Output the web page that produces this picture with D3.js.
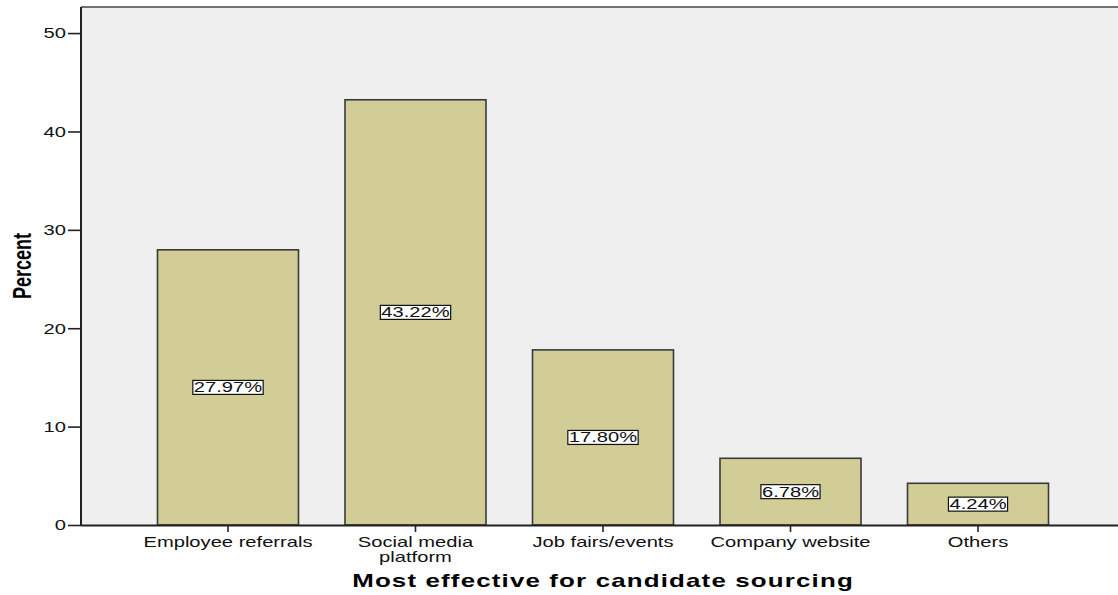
<!DOCTYPE html>
<html>
<head>
<meta charset="utf-8">
<script src="https://cdn.jsdelivr.net/npm/d3@7"></script>
<style>
  html, body { margin: 0; padding: 0; background: #ffffff; }
  svg { display: block; }
  text { font-family: Arial, "Liberation Sans", sans-serif; fill: #111; }
</style>
</head>
<body>
<svg id="chart" width="1118" height="595"></svg>
<script>
const categories = ["Employee referrals", "Social media platform", "Job fairs/events", "Company website", "Others"];
const categoryLines = [["Employee referrals"], ["Social media", "platform"], ["Job fairs/events"], ["Company website"], ["Others"]];
const percents = [27.97, 43.22, 17.80, 6.78, 4.24];
const valueLabels = ["27.97%", "43.22%", "17.80%", "6.78%", "4.24%"];
const yTicks = [0, 10, 20, 30, 40, 50];
const yMax = 52.65;
const xTitle = "Most effective for candidate sourcing";
const yTitle = "Percent";

const SX = 1.44; // horizontal stretch of the original rendering
const pLeft = 81, pRight = 1125, pTop = 7, pBottom = 525;

const svg = d3.select("#chart");

const x = d3.scaleBand().domain(categories).range([pLeft, pRight])
  .paddingInner(0.248).paddingOuter(0.408);
const y = d3.scaleLinear().domain([0, yMax]).range([pBottom, pTop]);

// plot background
svg.append("rect")
  .attr("x", pLeft).attr("y", pTop)
  .attr("width", pRight - pLeft).attr("height", pBottom - pTop)
  .attr("fill", "#efefef");

// top frame line
svg.append("line")
  .attr("x1", pLeft).attr("x2", pRight).attr("y1", pTop).attr("y2", pTop)
  .attr("stroke", "#444").attr("stroke-width", 1.6);

// bars
svg.append("g").selectAll("rect")
  .data(percents)
  .join("rect")
  .attr("x", (d, i) => x(categories[i]))
  .attr("y", d => y(d))
  .attr("width", x.bandwidth())
  .attr("height", d => y(0) - y(d))
  .attr("fill", "#d2cd96")
  .attr("stroke", "#3a3a3a")
  .attr("stroke-width", 1.6);

// y axis
const yAxis = d3.axisLeft(y).tickValues(yTicks).tickSize(13).tickFormat(d3.format("d"));
const gy = svg.append("g").attr("transform", `translate(${pLeft},0)`).call(yAxis);
gy.select(".domain").remove();
gy.selectAll(".tick line").attr("stroke", "#222").attr("stroke-width", 1.6);
gy.selectAll(".tick text").remove();
gy.selectAll(".tick").append("text")
  .attr("transform", `translate(-15,0) scale(${SX},1)`)
  .attr("text-anchor", "end")
  .attr("dy", "0.35em")
  .style("font-size", "14px")
  .style("fill", "#111")
  .text(d => d);
svg.append("line")
  .attr("x1", pLeft).attr("x2", pLeft).attr("y1", pTop).attr("y2", pBottom)
  .attr("stroke", "#222").attr("stroke-width", 2);

// x axis
const xAxis = d3.axisBottom(x).tickSize(7).tickFormat("");
const gx = svg.append("g").attr("transform", `translate(0,${pBottom})`).call(xAxis);
gx.select(".domain").attr("stroke", "#222").attr("stroke-width", 1.8)
  .attr("d", `M${pLeft},0.5H${pRight}`);
gx.selectAll(".tick line").attr("stroke", "#222").attr("stroke-width", 1.6);
gx.selectAll(".tick text").remove();
gx.selectAll(".tick").each(function(d, i) {
  const t = d3.select(this).append("text")
    .attr("transform", `translate(0,21.5) scale(${SX},1)`)
    .attr("text-anchor", "middle")
    .style("font-size", "14px")
    .style("fill", "#111");
  categoryLines[i].forEach((line, j) => {
    t.append("tspan").attr("x", 0).attr("dy", j === 0 ? 0 : 16).text(line);
  });
});

// value labels with boxes
const lab = svg.append("g").selectAll("g")
  .data(percents)
  .join("g")
  .attr("transform", (d, i) => `translate(${x(categories[i]) + x.bandwidth() / 2},${y(d / 2)})`);
lab.each(function(d, i) {
  const g = d3.select(this);
  const rect = g.append("rect").attr("fill", "#fff").attr("stroke", "#111").attr("stroke-width", 1.2);
  const t = g.append("text")
    .attr("transform", `scale(${SX},1)`)
    .attr("text-anchor", "middle")
    .attr("dy", "0.36em")
    .style("font-size", "14px")
    .style("fill", "#111")
    .text(valueLabels[i]);
  const w = t.node().getComputedTextLength() * SX;
  rect.attr("x", -w / 2 - 1).attr("y", -7).attr("width", w + 2).attr("height", 14);
});

// x title
svg.append("text")
  .attr("transform", `translate(${(pLeft + pRight) / 2},587) scale(${SX},1)`)
  .attr("text-anchor", "middle")
  .style("font-size", "18px")
  .style("font-weight", "bold")
  .style("letter-spacing", "0.8px")
  .style("fill", "#000")
  .text(xTitle);

// y title
svg.append("text")
  .attr("transform", `translate(31,${(pTop + pBottom) / 2}) scale(${SX},1) rotate(-90)`)
  .attr("text-anchor", "middle")
  .style("font-size", "18px")
  .style("font-weight", "bold")
  .style("fill", "#000")
  .text(yTitle);
</script>
</body>
</html>
